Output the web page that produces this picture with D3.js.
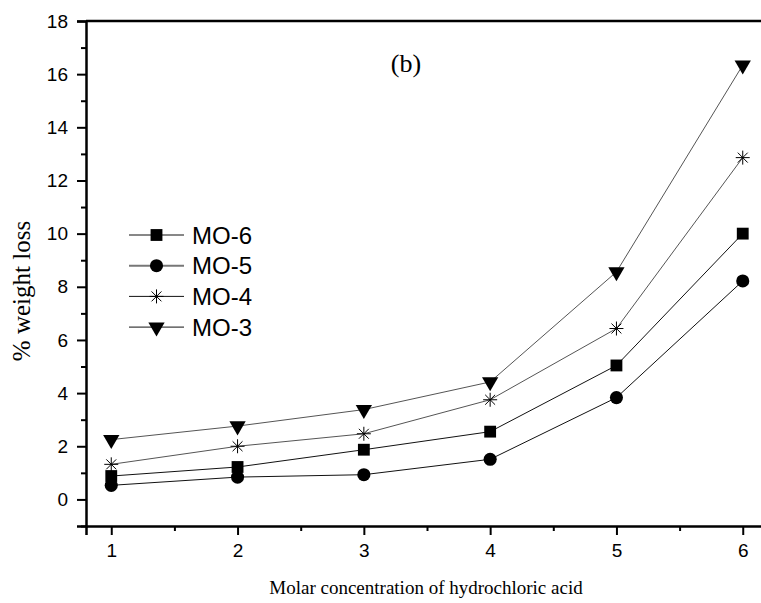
<!DOCTYPE html>
<html>
<head>
<meta charset="utf-8">
<script src="https://cdn.jsdelivr.net/npm/d3@7"></script>
<style>
  body { margin: 0; background: #fff; }
  svg { display: block; }
</style>
</head>
<body>
<div class="chart"></div>
<script>
// data
const concentrations = [1, 2, 3, 4, 5, 6];
const mo6 = [0.88, 1.22, 1.87, 2.55, 5.04, 10.0];
const mo5 = [0.53, 0.84, 0.93, 1.51, 3.83, 8.22];
const mo4 = [1.32, 2.0, 2.47, 3.75, 6.43, 12.86];
const mo3 = [2.25, 2.76, 3.38, 4.42, 8.56, 16.34];
const seriesNames = ["MO-6", "MO-5", "MO-4", "MO-3"];
const yTicks = [0, 2, 4, 6, 8, 10, 12, 14, 16, 18];

const series = [
    {name: "MO-6", values: mo6, symbol: "square", stroke: "#111"},
    {name: "MO-5", values: mo5, symbol: "circle", stroke: "#111"},
    {name: "MO-4", values: mo4, symbol: "star", stroke: "#555"},
    {name: "MO-3", values: mo3, symbol: "triangle", stroke: "#555"}
];

var margin = {top: 21, right: -7, bottom: 77, left: 86},
    width = 761 - margin.left - margin.right,
    height = 603 - margin.top - margin.bottom;

var svg = d3.select(".chart")
    .append("svg")
    .attr("width", 761)
    .attr("height", 603)
    .append("g")
    .attr("transform", "translate(" + margin.left + "," + margin.top + ")");

var x = d3.scaleLinear().domain([0.8, 6.2]).range([0, width]);
var y = d3.scaleLinear().domain([-1, 18]).range([height, 0]);

// minor ticks
var xMinor = d3.range(1.5, 6.2, 1);
var yMinor = d3.range(-1, 18, 2);

svg.append("g")
    .attr("transform", "translate(0," + height + ")")
    .call(d3.axisBottom(x).tickValues(xMinor).tickSize(5).tickFormat(""))
    .call(g => g.select(".domain").remove());
svg.append("g")
    .call(d3.axisLeft(y).tickValues(yMinor).tickSize(5).tickFormat(""))
    .call(g => g.select(".domain").remove());

var xAxis = svg.append("g")
    .attr("transform", "translate(0," + height + ")")
    .call(d3.axisBottom(x).tickValues(concentrations).tickSize(9).tickPadding(9).tickFormat(d3.format("d")));
var yAxis = svg.append("g")
    .call(d3.axisLeft(y).tickValues(yTicks).tickSize(9).tickPadding(9).tickFormat(d3.format("d")));

svg.selectAll(".tick line").attr("stroke", "#000").attr("stroke-width", 2);
xAxis.select(".domain").attr("stroke-width", 2.5);
yAxis.select(".domain").attr("stroke-width", 2.5);
[xAxis, yAxis].forEach(a => a.attr("font-size", null).attr("font-family", null));
svg.selectAll(".tick text")
    .style("font-family", "Arial, 'Liberation Sans', sans-serif")
    .style("font-size", "19px")
    .attr("fill", "#000");

// top border
svg.append("line")
    .attr("x1", 0).attr("x2", width)
    .attr("y1", 0).attr("y2", 0)
    .attr("stroke", "#000").attr("stroke-width", 2.5);

const symbols = {
    square: d3.symbol().type(d3.symbolSquare).size(140),
    circle: d3.symbol().type(d3.symbolCircle).size(135),
    triangle: d3.symbol().type(d3.symbolTriangle).size(115)
};

function drawMarker(g, sym) {
    if (sym === "star") {
        // eight-arm asterisk
        var r = 7;
        var p = "";
        [0, 45, 90, 135].forEach(a => {
            var t = a * Math.PI / 180;
            p += "M" + (-r * Math.cos(t)) + "," + (-r * Math.sin(t)) + "L" + (r * Math.cos(t)) + "," + (r * Math.sin(t));
        });
        g.append("path").attr("d", p).attr("fill", "none").attr("stroke", "#000").attr("stroke-width", 1);
    } else if (sym === "triangle") {
        g.append("path").attr("d", symbols.triangle()).attr("transform", "rotate(180)").attr("fill", "#000");
    } else {
        g.append("path").attr("d", symbols[sym]()).attr("fill", "#000");
    }
}

var line = d3.line()
    .x((d, i) => x(concentrations[i]))
    .y(d => y(d));

series.forEach(s => {
    svg.append("path")
        .datum(s.values)
        .attr("fill", "none")
        .attr("stroke", s.stroke)
        .attr("stroke-width", 1)
        .attr("d", line);

    s.values.forEach((v, i) => {
        var g = svg.append("g")
            .attr("transform", "translate(" + x(concentrations[i]) + "," + y(v) + ")");
        drawMarker(g, s.symbol);
    });
});

// legend
var legend = svg.append("g").attr("transform", "translate(" + (129 - margin.left) + "," + (235 - margin.top) + ")");
series.forEach((s, i) => {
    var row = legend.append("g").attr("transform", "translate(0," + (i * 30.7) + ")");
    row.append("line")
        .attr("x1", 0).attr("x2", 55)
        .attr("stroke", i === 1 ? "#777" : "#111")
        .attr("stroke-width", i === 1 ? 2 : 1);
    drawMarker(row.append("g").attr("transform", "translate(27.5,0)"), s.symbol);
    row.append("text")
        .attr("x", 63).attr("y", 8.5)
        .attr("font-family", "Arial, 'Liberation Sans', sans-serif")
        .attr("font-size", 24)
        .text(seriesNames[i]);
});

// panel label
svg.append("text")
    .attr("x", 406 - margin.left).attr("y", 72 - margin.top)
    .attr("text-anchor", "middle")
    .attr("font-family", "'Liberation Serif', 'Times New Roman', serif")
    .attr("font-size", 26)
    .text("(b)");

// axis titles
svg.append("text")
    .attr("x", 426 - margin.left).attr("y", 594 - margin.top)
    .attr("text-anchor", "middle")
    .attr("font-family", "'Liberation Serif', 'Times New Roman', serif")
    .attr("font-size", 19)
    .text("Molar concentration of hydrochloric acid");

svg.append("text")
    .attr("transform", "translate(" + (30 - margin.left) + "," + (291 - margin.top) + ") rotate(-90)")
    .attr("text-anchor", "middle")
    .attr("font-family", "'Liberation Serif', 'Times New Roman', serif")
    .attr("font-size", 25)
    .text("% weight loss");
</script>
</body>
</html>
